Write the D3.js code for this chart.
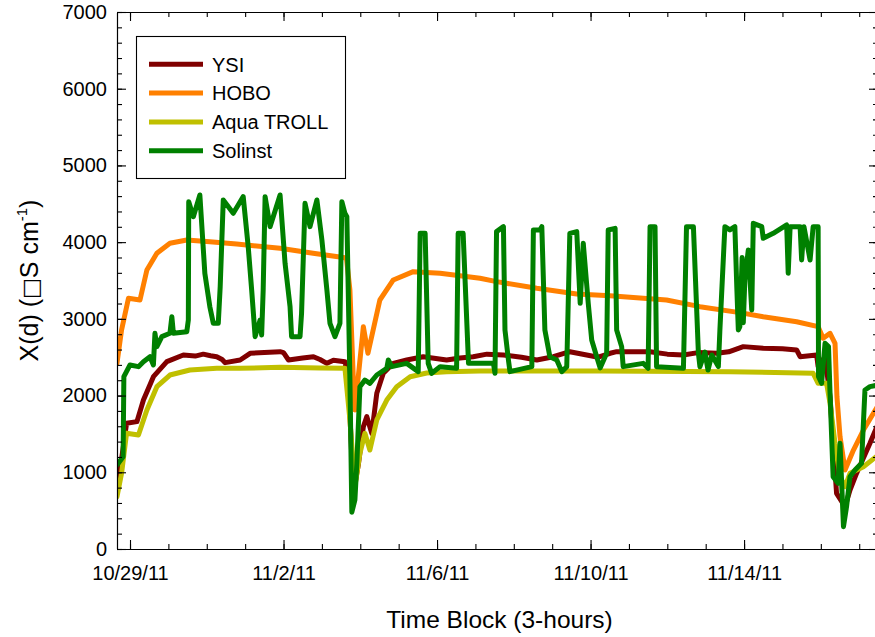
<!DOCTYPE html>
<html><head><meta charset="utf-8">
<script src="https://cdn.jsdelivr.net/npm/d3@7"></script>
<style>
body{margin:0;background:#fff}
svg{display:block}
text{font-family:"Liberation Sans",Arial,Helvetica,sans-serif;fill:#000}
</style>
</head><body>
<svg id="chart" width="875" height="637"></svg>
<script>
// ---------- data ----------
const seriesNames = ["YSI", "HOBO", "Aqua TROLL", "Solinst"];
const xTickLabels = ["10/29/11", "11/2/11", "11/6/11", "11/10/11", "11/14/11"];
const yTickValues = [0, 1000, 2000, 3000, 4000, 5000, 6000, 7000];
const xDomainStart = "10/28/11 15:52";
const xDomainEnd = "11/17/11 11:45";
const baseDate = "10/29/11 00:00";
// [days since 10/29/11 00:00, conductivity]
const ysi = [[-0.34,750],[-0.26,1030],[-0.09,1638],[0.18,1660],[0.35,1942],[0.61,2246],[0.96,2442],[1.39,2529],[1.7,2515],[1.91,2540],[2.1,2520],[2.26,2507],[2.4,2470],[2.48,2429],[2.87,2464],[3.13,2551],[3.5,2560],[3.91,2572],[4.0,2560],[4.13,2464],[4.5,2490],[4.78,2507],[4.95,2470],[5.13,2420],[5.3,2460],[5.6,2442],[5.69,2203],[5.82,730],[5.95,1100],[6.08,1594],[6.17,1725],[6.3,1508],[6.43,2030],[6.6,2290],[6.86,2420],[7.21,2464],[7.64,2507],[8.25,2464],[8.6,2490],[8.94,2507],[9.3,2540],[9.73,2529],[10.2,2500],[10.6,2464],[11.03,2507],[11.46,2572],[11.9,2529],[12.2,2500],[12.51,2551],[12.68,2572],[13.55,2572],[14.0,2540],[14.42,2529],[14.8,2560],[15.29,2551],[15.6,2570],[15.98,2638],[16.5,2616],[17.0,2610],[17.37,2594],[17.46,2507],[17.89,2529],[17.93,2377],[18.11,2507],[18.24,1985],[18.32,1378],[18.41,726],[18.63,551],[18.76,769],[18.93,986],[19.28,1378],[19.5,1640]];
const hobo = [[-0.34,2420],[-0.22,2855],[-0.04,3268],[0.26,3246],[0.44,3637],[0.7,3855],[1.04,3985],[1.48,4028],[2.08,4006],[2.78,3976],[3.91,3920],[4.77,3855],[5.56,3800],[5.64,3790],[5.73,3376],[5.82,2203],[5.86,1812],[6.08,2898],[6.2,2551],[6.51,3246],[6.86,3507],[7.38,3615],[8.08,3594],[9.12,3529],[9.55,3485],[10.6,3398],[11.64,3324],[12.51,3300],[13.98,3246],[14.85,3159],[15.89,3081],[16.5,3028],[17.37,2963],[17.93,2898],[18.06,2747],[18.24,2812],[18.37,2681],[18.42,1985],[18.5,1464],[18.63,1030],[18.85,1290],[19.11,1551],[19.5,1877]];
const aquaTroll = [[-0.34,682],[-0.22,986],[-0.09,1508],[0.22,1486],[0.44,1812],[0.7,2116],[1.04,2268],[1.56,2333],[2.26,2355],[2.87,2355],[3.91,2370],[4.95,2360],[5.6,2355],[5.73,1682],[5.86,812],[5.99,1247],[6.12,1508],[6.25,1290],[6.43,1682],[6.69,1942],[6.95,2116],[7.3,2246],[7.73,2295],[8.25,2310],[9.12,2320],[12.25,2320],[15.63,2312],[17.8,2290],[17.93,2160],[18.15,2160],[18.24,1899],[18.37,1378],[18.5,943],[18.63,812],[18.76,986],[19.11,1073],[19.5,1225]];
const solinst = [[-0.34,1095],[-0.18,1203],[-0.16,2246],[0.0,2399],[0.22,2377],[0.35,2442],[0.52,2507],[0.61,2399],[0.65,2812],[0.7,2638],[0.83,2768],[1.04,2812],[1.09,3028],[1.13,2812],[1.48,2833],[1.52,2985],[1.53,4527],[1.65,4332],[1.82,4615],[1.95,3594],[2.08,3159],[2.17,2942],[2.3,2942],[2.35,3420],[2.43,4550],[2.69,4376],[2.82,4484],[2.95,4593],[3.08,3941],[3.17,3376],[3.26,2768],[3.39,2985],[3.43,2790],[3.47,3376],[3.52,4593],[3.65,4202],[3.91,4615],[4.04,3724],[4.17,3159],[4.21,2768],[4.43,2768],[4.47,3072],[4.56,4506],[4.69,4202],[4.87,4550],[5.0,4028],[5.13,3376],[5.21,2942],[5.34,2768],[5.47,2942],[5.52,4528],[5.6,4376],[5.65,4332],[5.73,2203],[5.78,480],[5.86,640],[5.91,1117],[5.99,2116],[6.12,2203],[6.25,2160],[6.43,2268],[6.69,2355],[6.73,2464],[6.82,2377],[7.21,2420],[7.51,2312],[7.56,4115],[7.69,4115],[7.77,2420],[7.86,2290],[8.08,2377],[8.51,2355],[8.55,4115],[8.68,4115],[8.82,2420],[9.03,2420],[9.47,2420],[9.51,2290],[9.55,4137],[9.73,4202],[9.77,2855],[9.86,2464],[9.9,2312],[10.47,2377],[10.51,4159],[10.68,4159],[10.73,4202],[10.81,2855],[10.94,2507],[11.12,2464],[11.25,2312],[11.38,2377],[11.46,4115],[11.64,4137],[11.73,3202],[11.81,3985],[11.94,3202],[12.03,2725],[12.16,2507],[12.25,2360],[12.42,2551],[12.46,4159],[12.64,4180],[12.68,2855],[12.81,2638],[12.85,2377],[13.37,2420],[13.5,2355],[13.55,4202],[13.68,4202],[13.72,2377],[14.42,2355],[14.5,4202],[14.68,4202],[14.81,2551],[14.85,2377],[14.98,2568],[15.06,2333],[15.16,2529],[15.33,2377],[15.37,2855],[15.5,4202],[15.63,4159],[15.76,4202],[15.81,3420],[15.85,2855],[15.89,2898],[15.95,3800],[15.98,2950],[16.02,3507],[16.11,3898],[16.2,3116],[16.24,4245],[16.46,4202],[16.5,4050],[16.76,4115],[17.11,4224],[17.15,3594],[17.2,4202],[17.46,4202],[17.5,3768],[17.56,4202],[17.72,3768],[17.8,4202],[17.93,4202],[17.94,2246],[18.02,2160],[18.11,2681],[18.2,2638],[18.24,2029],[18.32,943],[18.45,856],[18.5,1378],[18.59,291],[18.67,551],[18.76,943],[18.89,1030],[19.06,1117],[19.15,2073],[19.28,2116],[19.5,2138]];
const seriesData = [ysi, hobo, aquaTroll, solinst];

// ---------- styles ----------
const colors = ["#800000", "#ff8000", "#c0c000", "#008000"];

// ---------- layout ----------
const svg = d3.select("#chart");
const plot = {left: 117, right: 878, top: 12, bottom: 549};

const parseFull = d3.timeParse("%m/%d/%y %H:%M");
const parseDay = d3.timeParse("%m/%d/%y");
const base = parseFull(baseDate);
const toDate = d => new Date(base.getTime() + d * 86400000);

const x = d3.scaleTime()
  .domain([parseFull(xDomainStart), parseFull(xDomainEnd)])
  .range([plot.left, plot.right]);
const y = d3.scaleLinear().domain([0, 7000]).range([plot.bottom, plot.top]);

const majorX = xTickLabels.map(parseDay);
const minorX = d3.timeDay.range(d3.timeDay.ceil(x.domain()[0]), x.domain()[1]);
const minorY = d3.range(0, 7001, 200);

// clip
svg.append("defs").append("clipPath").attr("id", "clip")
  .append("rect").attr("x", plot.left).attr("y", plot.top)
  .attr("width", plot.right - plot.left).attr("height", plot.bottom - plot.top);

// data lines
const line = d3.line().x(d => x(toDate(d[0]))).y(d => y(d[1]));
const g = svg.append("g").attr("clip-path", "url(#clip)");
seriesData.forEach((s, i) => {
  g.append("path").datum(s).attr("d", line)
    .attr("fill", "none").attr("stroke", colors[i])
    .attr("stroke-width", 5).attr("stroke-linejoin", "round").attr("stroke-linecap", "round");
});

// axes
function styleAxis(sel) {
  sel.selectAll("path,line").attr("stroke", "#000").attr("stroke-width", 1.1);
  sel.selectAll("text").attr("font-size", 20).attr("font-family", '"Liberation Sans",Arial,sans-serif').attr("fill", "#000");
}
const fmt = d3.timeFormat("%-m/%-d/%y");
// bottom
svg.append("g").attr("transform", `translate(0,${plot.bottom})`)
  .call(d3.axisBottom(x).tickValues(minorX).tickSize(-5).tickSizeOuter(0).tickFormat(""))
  .call(styleAxis);
svg.append("g").attr("transform", `translate(0,${plot.bottom})`)
  .call(d3.axisBottom(x).tickValues(majorX).tickSize(-9).tickSizeOuter(0).tickPadding(17).tickFormat((d, i) => xTickLabels[i]))
  .call(styleAxis);
// top
svg.append("g").attr("transform", `translate(0,${plot.top})`)
  .call(d3.axisTop(x).tickValues(minorX).tickSize(-5).tickSizeOuter(0).tickFormat(""))
  .call(styleAxis);
svg.append("g").attr("transform", `translate(0,${plot.top})`)
  .call(d3.axisTop(x).tickValues(majorX).tickSize(-9).tickSizeOuter(0).tickFormat(""))
  .call(styleAxis);
// left
svg.append("g").attr("transform", `translate(${plot.left},0)`)
  .call(d3.axisLeft(y).tickValues(minorY).tickSize(-5).tickSizeOuter(0).tickFormat(""))
  .call(styleAxis);
svg.append("g").attr("transform", `translate(${plot.left},0)`)
  .call(d3.axisLeft(y).tickValues(yTickValues).tickSize(-9).tickSizeOuter(0).tickPadding(10).tickFormat(d3.format("d")))
  .call(styleAxis);
// right
svg.append("g").attr("transform", `translate(${plot.right},0)`)
  .call(d3.axisRight(y).tickValues(minorY).tickSize(-5).tickSizeOuter(0).tickFormat(""))
  .call(styleAxis);
svg.append("g").attr("transform", `translate(${plot.right},0)`)
  .call(d3.axisRight(y).tickValues(yTickValues).tickSize(-9).tickSizeOuter(0).tickFormat(""))
  .call(styleAxis);

// axis titles
svg.append("text").attr("x", (plot.left + plot.right) / 2 + 2).attr("y", 628)
  .attr("text-anchor", "middle").attr("font-size", 24.5).text("Time Block (3-hours)");
const yt = svg.append("text").attr("transform", `translate(38,${(plot.top + plot.bottom) / 2}) rotate(-90)`)
  .attr("text-anchor", "middle").attr("font-size", 25);
yt.append("tspan").text("X(d) (");
yt.append("tspan").attr("font-family", '"DejaVu Sans",sans-serif').attr("font-size", 22).text("\u25A1");
yt.append("tspan").text("S cm");
yt.append("tspan").attr("font-size", 15).attr("dy", -11).text("-1");
yt.append("tspan").attr("dy", 11).text(")");

// legend
const lg = svg.append("g");
lg.append("rect").attr("x", 136.5).attr("y", 36.5).attr("width", 209).attr("height", 142)
  .attr("fill", "#fff").attr("stroke", "#000").attr("stroke-width", 1.1);
seriesNames.forEach((n, i) => {
  const yy = 64.3 + i * 28.8;
  lg.append("line").attr("x1", 149).attr("x2", 203).attr("y1", yy).attr("y2", yy)
    .attr("stroke", colors[i]).attr("stroke-width", 5);
  lg.append("text").attr("x", 212).attr("y", yy + 7.3).attr("font-size", 20).text(n);
});
</script>
</body></html>
